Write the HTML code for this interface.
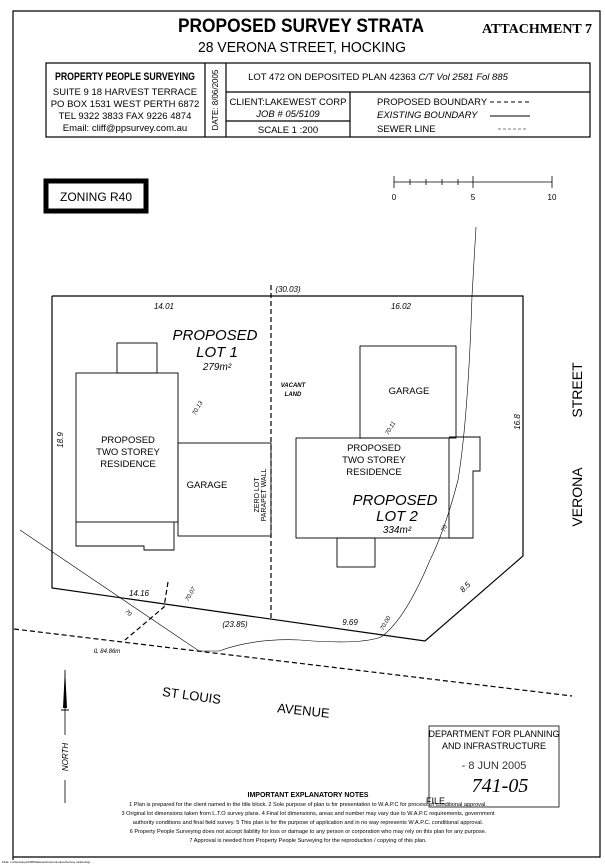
<!DOCTYPE html>
<html><head><meta charset="utf-8"><style>
html,body{margin:0;padding:0;background:#fff;}
svg{display:block;font-family:"Liberation Sans",sans-serif;}
</style></head><body>
<svg width="605" height="866" viewBox="0 0 605 866" xmlns="http://www.w3.org/2000/svg">
<rect x="0" y="0" width="605" height="866" fill="#fff"/>
<!-- page frame -->
<polyline points="13,860 13,11 600,11 600,857 13,857" fill="none" stroke="#000" stroke-width="1.2"/>
<text x="301" y="32" text-anchor="middle" font-size="19" font-weight="bold" textLength="246" lengthAdjust="spacingAndGlyphs">PROPOSED SURVEY STRATA</text>
<text x="302" y="52" text-anchor="middle" font-size="15" textLength="208" lengthAdjust="spacingAndGlyphs">28 VERONA STREET, HOCKING</text>
<text x="537" y="33" text-anchor="middle" font-size="14" font-weight="bold" font-family="Liberation Serif,serif">ATTACHMENT 7</text>
<!-- title block -->
<g stroke="#000" stroke-width="1.2" fill="none">
<rect x="46" y="63" width="544" height="74"/>
<line x1="205" y1="63" x2="205" y2="137"/>
<line x1="226" y1="63" x2="226" y2="137"/>
<line x1="226" y1="92" x2="590" y2="92"/>
<line x1="226" y1="121" x2="350" y2="121"/>
<line x1="350" y1="92" x2="350" y2="137"/>
</g>
<g font-size="9.5" text-anchor="middle">
<text x="125" y="80" font-weight="bold" font-size="11" textLength="140" lengthAdjust="spacingAndGlyphs">PROPERTY PEOPLE SURVEYING</text>
<text x="125" y="95">SUITE 9 18 HARVEST TERRACE</text>
<text x="125" y="107">PO BOX 1531 WEST PERTH 6872</text>
<text x="125" y="119">TEL 9322 3833   FAX 9226 4874</text>
<text x="125" y="131">Email: cliff@ppsurvey.com.au</text>
<text x="0" y="0" font-size="8" transform="translate(218,100) rotate(-90)">DATE: 8/06/2005</text>
<text x="378" y="80">LOT 472 ON DEPOSITED PLAN 42363 <tspan font-style="italic">  C/T Vol 2581 Fol 885</tspan></text>
<text x="288" y="105">CLIENT:LAKEWEST CORP</text>
<text x="288" y="117" font-style="italic">JOB # 05/5109</text>
<text x="288" y="133">SCALE 1 :200</text>
</g>
<g font-size="9.5">
<text x="377" y="105">PROPOSED BOUNDARY</text>
<text x="377" y="118" font-style="italic">EXISTING BOUNDARY</text>
<text x="377" y="132">SEWER LINE</text>
</g>
<line x1="490" y1="102" x2="530" y2="102" stroke="#000" stroke-dasharray="4,3"/>
<line x1="490" y1="116" x2="530" y2="116" stroke="#000"/>
<line x1="498" y1="129" x2="528" y2="129" stroke="#000" stroke-width="0.6" stroke-dasharray="3,2"/>
<!-- zoning -->
<rect x="46" y="181" width="100" height="30" fill="none" stroke="#000" stroke-width="5"/>
<text x="96" y="201" text-anchor="middle" font-size="12">ZONING R40</text>
<!-- scale bar -->
<g stroke="#000" stroke-width="0.8">
<line x1="394" y1="182" x2="552" y2="182"/>
<line x1="394" y1="176" x2="394" y2="188"/>
<line x1="410" y1="179" x2="410" y2="185"/>
<line x1="426" y1="179" x2="426" y2="185"/>
<line x1="442" y1="179" x2="442" y2="185"/>
<line x1="458" y1="179" x2="458" y2="185"/>
<line x1="473" y1="176" x2="473" y2="188"/>
<line x1="552" y1="176" x2="552" y2="188"/>
</g>
<g font-size="8" text-anchor="middle"><text x="394" y="200">0</text><text x="473" y="200">5</text><text x="552" y="200">10</text></g>
<!-- lot -->
<polyline points="52,296 523,296 523,556 425,641 52,588 52,296" fill="none" stroke="#000" stroke-width="1.2"/>
<line x1="271" y1="285" x2="271" y2="619" stroke="#000" stroke-width="1.2" stroke-dasharray="5,3"/>
<!-- left house -->
<g fill="none" stroke="#000" stroke-width="0.9">
<rect x="117" y="343" width="40" height="30"/>
<rect x="76" y="373" width="102" height="149"/>
<polyline points="76,522 76,546 144,546 144,550 174,550 174,522"/>
<rect x="178" y="443" width="93" height="93"/>
<rect x="360" y="346" width="96" height="92"/>
<rect x="296" y="438" width="153" height="100"/>
<polyline points="449,437 480,437 480,471 473,471 473,538 449,538"/>
<rect x="337" y="538" width="38" height="29"/>
</g>
<!-- sewer & contour -->
<path d="M476,227 L472,296 Q468,420 458,480 Q445,530 430,560 Q405,620 381,637 Q360,645 300,640 Q255,638 219,651 L199,651 L20,530" fill="none" stroke="#000" stroke-width="0.6"/>
<line x1="14" y1="629" x2="572" y2="696" stroke="#000" stroke-width="1.2" stroke-dasharray="5,3"/>
<polyline points="168,582 164,607 125,640" fill="none" stroke="#000" stroke-width="1.2" stroke-dasharray="5,3"/>
<!-- labels -->
<g font-size="8" font-style="italic" text-anchor="middle">
<text x="288" y="292">(30.03)</text>
<text x="164" y="309">14.01</text>
<text x="401" y="309">16.02</text>
<text x="139" y="596">14.16</text>
<text x="235" y="627">(23.85)</text>
<text x="350" y="625">9.69</text>
<text transform="translate(467,589) rotate(-45)">8.5</text>
<text transform="translate(63,440) rotate(-90)">18.9</text>
<text transform="translate(520,422) rotate(-90)">16.8</text>
</g>
<g font-size="6" font-style="italic" text-anchor="middle">
<text transform="translate(199,409) rotate(-60)">70.13</text>
<text transform="translate(392,429) rotate(-60)">70.11</text>
<text transform="translate(192,595) rotate(-60)">70.07</text>
<text transform="translate(387,624) rotate(-60)">70.00</text>
<text transform="translate(446,529) rotate(-70)">70</text>
<text transform="translate(127,614) rotate(45)">70</text>
<text x="107" y="653">IL 84.86m</text>
<text x="293" y="387" font-weight="bold">VACANT</text>
<text x="293" y="396" font-weight="bold">LAND</text>
</g>
<g text-anchor="middle" font-style="italic">
<text x="215" y="340" font-size="15">PROPOSED</text>
<text x="217" y="357" font-size="15">LOT 1</text>
<text x="217" y="370" font-size="10">279m²</text>
<text x="395" y="505" font-size="15">PROPOSED</text>
<text x="397" y="521" font-size="15">LOT 2</text>
<text x="397" y="533" font-size="10">334m²</text>
</g>
<g font-size="9.5" text-anchor="middle">
<text x="128" y="443">PROPOSED</text><text x="128" y="455">TWO STOREY</text><text x="128" y="467">RESIDENCE</text>
<text x="374" y="451">PROPOSED</text><text x="374" y="463">TWO STOREY</text><text x="374" y="475">RESIDENCE</text>
<text x="207" y="488">GARAGE</text>
<text x="409" y="394">GARAGE</text>
<text font-size="7" transform="translate(259,495) rotate(-90)">ZERO LOT</text>
<text font-size="7" transform="translate(266,495) rotate(-90)">PARAPET WALL</text>
<text font-size="14" transform="translate(582,390) rotate(-90)">STREET</text>
<text font-size="14" transform="translate(582,497) rotate(-90)">VERONA</text>
<text font-size="13" transform="translate(191,700) rotate(8)">ST LOUIS</text>
<text font-size="13" transform="translate(303,715) rotate(6)">AVENUE</text>
</g>
<!-- north arrow -->
<line x1="65" y1="670" x2="65" y2="735" stroke="#000" stroke-width="0.8"/>
<line x1="65" y1="780" x2="65" y2="803" stroke="#000" stroke-width="0.8"/>
<polygon points="65,668 63,708 67,708" fill="#000"/>
<line x1="61" y1="710" x2="69" y2="710" stroke="#000"/>
<text font-size="8" font-style="italic" text-anchor="middle" transform="translate(68,757) rotate(-90)">NORTH</text>
<!-- stamp -->
<rect x="429" y="726" width="130" height="81" fill="none" stroke="#000" stroke-width="0.8"/>
<g text-anchor="middle" font-size="9">
<text x="494" y="737">DEPARTMENT FOR PLANNING</text>
<text x="494" y="749">AND INFRASTRUCTURE</text>
<text x="494" y="769" font-size="11" fill="#333">- 8 JUN 2005</text>
<text x="500" y="792" font-size="20" font-family="Liberation Serif,serif" font-style="italic">741-05</text>
</g>
<text x="426" y="804" font-size="9">FILE</text>
<!-- notes -->
<g text-anchor="middle" font-size="5.6">
<text x="308" y="797" font-size="7" font-weight="bold">IMPORTANT EXPLANATORY NOTES</text>
<text x="308" y="806">1 Plan is prepared for the client named in the title block.  2 Sole purpose of plan is for presentation to W.A.P.C for process of conditional approval.</text>
<text x="308" y="815">3 Original lot dimensions taken from L.T.O survey plans. 4 Final lot dimensions, areas and number may vary due to W.A.P.C requirements, government</text>
<text x="308" y="824">authority conditions and final field survey.  5 This plan is for the purpose of application and in no way represents W.A.P.C. conditional approval.</text>
<text x="308" y="833">6 Property People Surveying does not accept liability for loss or damage to any person or corporation who may rely on this plan for any purpose.</text>
<text x="308" y="842">7 Approval is needed from Property People Surveying for the reproduction / copying of this plan.</text>
</g>
<text x="2" y="863" font-size="3">FILE: c:\clients\pps\2005\lakewest\verona street\survey strata.dwg</text>
</svg>
</body></html>
